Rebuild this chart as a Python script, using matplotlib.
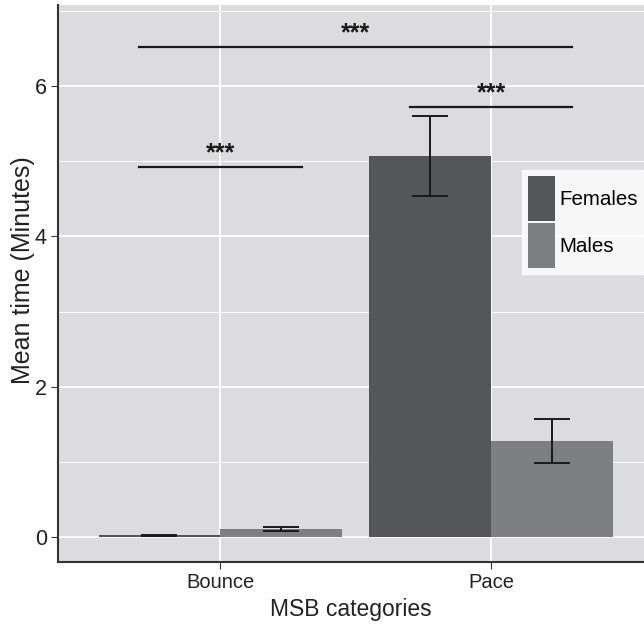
import numpy as np
import matplotlib.pyplot as plt
from matplotlib.patches import Patch

plt.rcParams['font.family'] = ['Liberation Sans', 'DejaVu Sans']

# data
categories = ['Bounce', 'Pace']
groups = ['Females', 'Males']
means = {'Females': [0.02, 5.07], 'Males': [0.10, 1.28]}
err_lo = {'Females': [0.01, 4.54], 'Males': [0.08, 0.98]}
err_hi = {'Females': [0.03, 5.60], 'Males': [0.13, 1.57]}
colors = {'Females': '#555658', 'Males': '#7e7f81'}

# significance brackets: (x start, x end, height, label)
sig_x0 = [0.7, 1.7, 0.7]
sig_x1 = [1.3, 2.3, 2.3]
sig_y = [4.92, 5.72, 6.52]
sig_lab = ['***', '***', '***']

fig = plt.figure(figsize=(6.44, 6.25), dpi=100)
ax = fig.add_axes([0.090, 0.1008, 0.91, 0.8912])
ax.set_facecolor('#dcdcde')

x = np.arange(1, len(categories) + 1)
w = 0.45
for i, g in enumerate(groups):
    xs = x + (i - 0.5) * w
    ax.bar(xs, means[g], width=w, color=colors[g], zorder=2)
    lo = np.array(means[g]) - np.array(err_lo[g])
    hi = np.array(err_hi[g]) - np.array(means[g])
    ax.errorbar(xs, means[g], yerr=[lo, hi], fmt='none', ecolor='#1a1a1a',
                elinewidth=1.4, capsize=13, capthick=1.4, zorder=3)

for x0, x1, y, lab in zip(sig_x0, sig_x1, sig_y, sig_lab):
    ax.plot([x0, x1], [y, y], color='#1a1a1a', lw=1.6, zorder=3)
    ax.text((x0 + x1) / 2, y + 0.03, lab, ha='center', va='bottom',
            fontsize=18, fontweight='bold', color='#1a1a1a')

ax.set_xlim(0.4, 2.565)
ax.set_ylim(-0.333, 7.08)
ax.set_xticks(x)
ax.set_xticklabels(categories)
ax.set_yticks([0, 2, 4, 6])
ax.set_yticks([1, 3, 5, 7], minor=True)
ax.grid(which='major', color='white', lw=1.3, zorder=0)
ax.grid(which='minor', axis='y', color='white', lw=0.7, zorder=0)
ax.set_axisbelow(True)
ax.tick_params(which='minor', length=0)
ax.tick_params(axis='y', which='major', labelsize=15.5, color='#333333', length=5,
               labelcolor='#222222', pad=3)
ax.tick_params(axis='x', which='major', labelsize=14.5, color='#333333', length=5,
               labelcolor='#222222', pad=3)

for s in ['top', 'right']:
    ax.spines[s].set_visible(False)
for s in ['left', 'bottom']:
    ax.spines[s].set_color('#333333')
    ax.spines[s].set_linewidth(1.5)

ax.set_xlabel('MSB categories', fontsize=16.5, color='#222222', labelpad=4)
ax.set_ylabel('Mean time (Minutes)', fontsize=18, color='#222222')
ax.yaxis.set_label_coords(-0.04, 0.524)

handles = [Patch(facecolor=colors[g], edgecolor='none', label=g) for g in groups]
leg = ax.legend(handles=handles, loc='upper left', bbox_to_anchor=(0.792, 0.704),
                frameon=True, fancybox=False, fontsize=14.8, handlelength=1.3,
                handleheight=3.0, handletextpad=0.2, labelspacing=0.1,
                borderpad=0.3, borderaxespad=0)
leg.get_frame().set_facecolor('white')
leg.get_frame().set_edgecolor('white')

fig.savefig('out.png', dpi=100)
